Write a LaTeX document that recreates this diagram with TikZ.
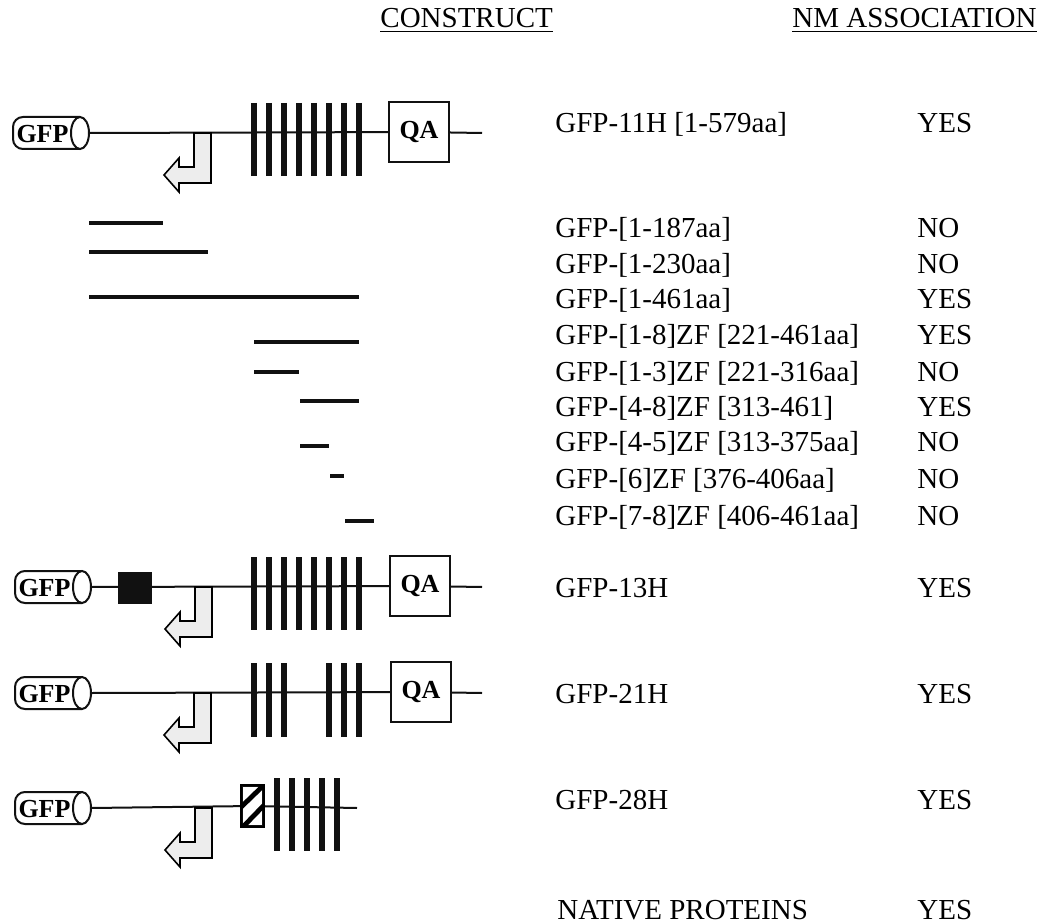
\documentclass[tikz,border=0pt]{standalone}
\usepackage{fontspec}
\setmainfont{Liberation Serif}
\usepackage{tikz}
\usetikzlibrary{positioning}
\definecolor{nmInk}{HTML}{111111}
\definecolor{nmHook}{HTML}{EDEDED}
\tikzset{
    every picture/.style={font=\fontsize{14.5}{17}\selectfont},
    backbone/.style={line width=1pt, draw=nmInk},
    zfbar/.style={line width=2.6pt, draw=nmInk},
    frag/.style={line width=2pt, draw=nmInk},
    qabox/.style={draw=nmInk, line width=1pt, minimum width=30pt, minimum height=30pt, inner sep=0pt, fill=white, font=\fontsize{13}{13}\selectfont\bfseries},
    blackbox/.style={draw=nmInk, fill=nmInk, minimum width=16.5pt, minimum height=15.5pt, inner sep=0pt},
    hatchbox/.style={draw=nmInk, line width=1pt, fill=white, minimum width=10.5pt, minimum height=20pt, inner sep=0pt},
    rowtext/.style={anchor=base west, inner sep=0pt},
    colhead/.style={anchor=base west, inner sep=0pt},
    gfpcyl/.pic={
        \draw[line width=1pt, rounded corners=5pt] (67,-16) -- (0,-16) -- (0,16) -- (67,16);
        \draw[line width=1pt, fill=white] (67,0) ellipse [x radius=9, y radius=16];
        \node[inner sep=0pt, font=\fontsize{13}{13}\selectfont\bfseries] (-txt) at (29.5,1) {GFP};
        \coordinate (-end) at (76,0);
    },
    hookarrow/.pic={
        \draw[line width=0.8pt, fill=nmHook] (0,0) -- (17,0) -- (17,50) -- (-15,50) -- (-15,59) -- (-30,42) -- (-15,25) -- (-15,34) -- (0,34) -- cycle;
    }
}

\begin{document}
\begin{tikzpicture}[x=0.5pt, y=-0.5pt]
\useasboundingbox (0,0) rectangle (1063,924);
% column heads
\node[colhead] (hcon) at (380,28) {\underline{CONSTRUCT}};
\node[colhead] (hnm) at (792,28) {\underline{NM ASSOCIATION}};

% GFP-11H
\draw[backbone] (13,133) pic (g1) {gfpcyl};
\node[qabox] (qa1) at (419,132) {QA};
\coordinate (e1) at (482,133);
\draw[backbone] (g1-end) -- (qa1) (qa1) -- (e1);
\pic at (194,133) {hookarrow};
\foreach \bx in {254,269,...,359} \draw[zfbar] (\bx,103) -- (\bx,176);

% deletion fragments
\draw[frag] (89,223) -- (163,223);
\draw[frag] (89,252) -- (208,252);
\draw[frag] (89,297) -- (359,297);
\draw[frag] (254,342) -- (359,342);
\draw[frag] (254,372) -- (299,372);
\draw[frag] (300,401) -- (359,401);
\draw[frag] (300,446) -- (329,446);
\draw[frag] (330,476) -- (344,476);
\draw[frag] (345,521) -- (374,521);

% GFP-13H
\draw[backbone] (15,587) pic (g2) {gfpcyl};
\node[qabox] (qa2) at (420,586) {QA};
\coordinate (e2) at (482,587);
\draw[backbone] (g2-end) -- (qa2) (qa2) -- (e2);
\node[blackbox] (blk) at (134.5,587.5) {};
\pic at (195,587) {hookarrow};
\foreach \bx in {254,269,...,359} \draw[zfbar] (\bx,557) -- (\bx,630);

% GFP-21H
\draw[backbone] (15,693) pic (g3) {gfpcyl};
\node[qabox] (qa3) at (421,692) {QA};
\coordinate (e3) at (482,693);
\draw[backbone] (g3-end) -- (qa3) (qa3) -- (e3);
\pic at (194,693) {hookarrow};
\foreach \bx in {254,269,284,329,344,359} \draw[zfbar] (\bx,663) -- (\bx,737);

% GFP-28H
\draw[backbone] (15,808) pic (g4) {gfpcyl};
\node[hatchbox] (hat) at (252.5,806) {};
\coordinate (e4) at (357,808);
\draw[backbone] (g4-end) -- (hat) (hat) -- (e4);
\begin{scope}
  \clip (hat.south west) rectangle (hat.north east);
  \draw[line width=2.4pt] (236,812) -- (268,781) (238,832) -- (269,800);
\end{scope}
\draw[line width=1pt] (hat.south west) rectangle (hat.north east);
\pic at (195,808) {hookarrow};
\foreach \bx in {277,292,...,337} \draw[zfbar] (\bx,778) -- (\bx,851);

% labels
\node[rowtext] (l11h) at (555,133) {GFP-11H [1-579aa]};
\node[rowtext] (l187) at (555,238) {GFP-[1-187aa]};
\node[rowtext] (l230) at (555,274) {GFP-[1-230aa]};
\node[rowtext] (l461) at (555,309) {GFP-[1-461aa]};
\node[rowtext] (lz18) at (555,345) {GFP-[1-8]ZF [221-461aa]};
\node[rowtext] (lz13) at (555,381) {GFP-[1-3]ZF [221-316aa]};
\node[rowtext] (lz48) at (555,416) {GFP-[4-8]ZF [313-461]};
\node[rowtext] (lz45) at (555,451) {GFP-[4-5]ZF [313-375aa]};
\node[rowtext] (lz6) at (555,488) {GFP-[6]ZF [376-406aa]};
\node[rowtext] (lz78) at (555,525) {GFP-[7-8]ZF [406-461aa]};
\node[rowtext] (l13h) at (555,597) {GFP-13H};
\node[rowtext] (l21h) at (555,703) {GFP-21H};
\node[rowtext] (l28h) at (555,809) {GFP-28H};
\node[rowtext] (lnat) at (557,919) {NATIVE PROTEINS};

% association
\node[rowtext] (a11h) at (917,133) {YES};
\node[rowtext] (a187) at (917,238) {NO};
\node[rowtext] (a230) at (917,274) {NO};
\node[rowtext] (a461) at (917,309) {YES};
\node[rowtext] (az18) at (917,345) {YES};
\node[rowtext] (az13) at (917,381) {NO};
\node[rowtext] (az48) at (917,416) {YES};
\node[rowtext] (az45) at (917,451) {NO};
\node[rowtext] (az6) at (917,488) {NO};
\node[rowtext] (az78) at (917,525) {NO};
\node[rowtext] (a13h) at (917,597) {YES};
\node[rowtext] (a21h) at (917,703) {YES};
\node[rowtext] (a28h) at (917,809) {YES};
\node[rowtext] (anat) at (917,919) {YES};
\end{tikzpicture}
\end{document}
